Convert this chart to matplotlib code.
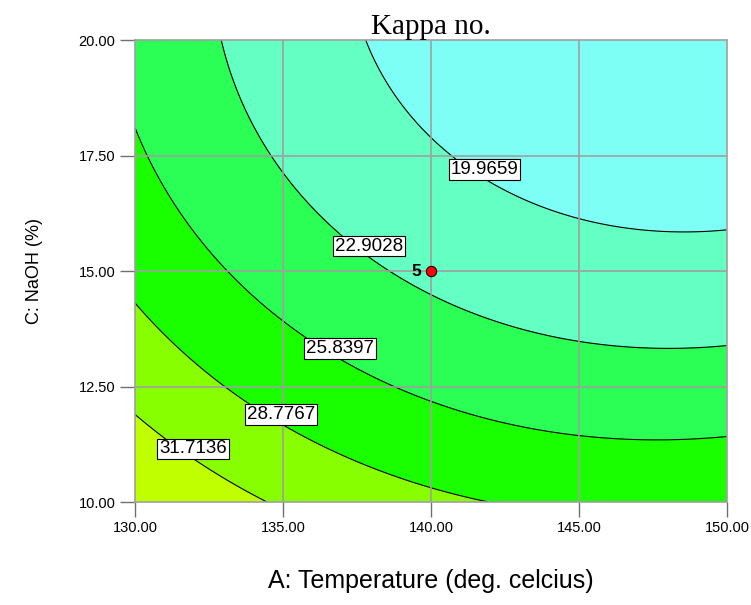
import numpy as np
import matplotlib.pyplot as plt

# quadratic response model for Kappa no. (coded units, A=(T-140)/10, C=(NaOH-15)/5)
coef_names = ['b0', 'A', 'C', 'A2', 'C2', 'AC']
coef_vals = [22.354, -3.589, -5.1685, 2.1444, 1.7862, -0.4371]

levels = [19.9659, 22.9028, 25.8397, 28.7767, 31.7136]
fill_colors = ['#7dfff6', '#64ffc3', '#2bff56', '#1aff00', '#88ff00', '#c0ff00']

# label positions (T, NaOH) per level
label_pos = [(141.8, 17.2), (137.9, 15.54), (136.93, 13.33), (134.93, 11.9), (131.96, 11.15)]

design_pt = (140.0, 15.0)
design_lbl = '5'

x_ticks = [130, 135, 140, 145, 150]
y_ticks = [10, 12.5, 15, 17.5, 20]

b = dict(zip(coef_names, coef_vals))
T = np.linspace(130, 150, 301)
N = np.linspace(10, 20, 301)
TT, NN = np.meshgrid(T, N)
A = (TT - 140) / 10
C = (NN - 15) / 5
K = b['b0'] + b['A'] * A + b['C'] * C + b['A2'] * A**2 + b['C2'] * C**2 + b['AC'] * A * C

fig = plt.figure(figsize=(7.51, 6.05), dpi=100)
ax = fig.add_axes([0.1798, 0.1702, 0.7885, 0.7636])

ax.contourf(TT, NN, K, levels=[0] + levels + [100], colors=fill_colors)
ax.contour(TT, NN, K, levels=levels, colors='k', linewidths=0.8)

# grid
for x in x_ticks[1:-1]:
    ax.axvline(x, color='#a0a0a0', lw=1.2, zorder=2)
for y in y_ticks[1:-1]:
    ax.axhline(y, color='#a0a0a0', lw=1.2, zorder=2)

for lev, (lx, ly) in zip(levels, label_pos):
    ax.text(lx, ly, '%.4f' % lev, ha='center', va='center', fontsize=13.5,
            family='Liberation Sans', zorder=5,
            bbox=dict(boxstyle='square,pad=0.1', fc='white', ec='black', lw=0.8))

ax.plot(*design_pt, 'o', ms=7.5, mfc='red', mec='black', mew=0.7, zorder=6)
ax.text(design_pt[0] - 0.35, design_pt[1], design_lbl, ha='right', va='center',
        fontsize=12.5, fontweight='bold', family='Liberation Sans', zorder=6)

ax.set_xlim(130, 150)
ax.set_ylim(10, 20)
ax.set_xticks(x_ticks)
ax.set_yticks(y_ticks)
ax.set_xticklabels(['%.2f' % v for v in x_ticks], family='Liberation Sans', fontsize=10.5)
ax.set_yticklabels(['%.2f' % v for v in y_ticks], family='Liberation Sans', fontsize=10.5)
ax.tick_params(direction='out', length=11, width=1, color='#707070', pad=3)
for s in ax.spines.values():
    s.set_color('#a0a0a0')
    s.set_linewidth(1.2)

ax.set_title('Kappa no.', family='Liberation Serif', fontsize=21, pad=4)
ax.set_xlabel('A: Temperature (deg. celcius)', family='Liberation Sans', fontsize=18, labelpad=24)
ax.set_ylabel('C: NaOH (%)', family='Liberation Sans', fontsize=13, labelpad=26)

fig.savefig('out.png')
